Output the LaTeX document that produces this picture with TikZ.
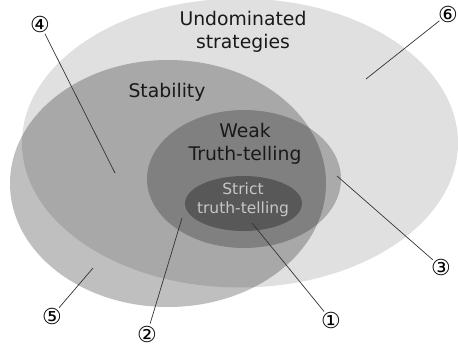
\documentclass[tikz,border=0pt]{standalone}
\usepackage{fontspec}
\setmainfont{DejaVu Sans}
\usetikzlibrary{shapes.geometric}

\begin{document}
\begin{tikzpicture}[x=1pt, y=-1pt]
		\tikzstyle{Set} = [ellipse, draw=none, fill=black, inner sep=0pt]
		\tikzstyle{Title} = [align=center, inner sep=0pt, font=\fontsize{18.8}{23.5}\selectfont, text=black!90]
		\tikzstyle{Num} = [circle, inner sep=-1.5pt, font=\fontsize{22}{22}\selectfont]
		\tikzstyle{pointer} = [black!80, line width=0.7pt]
		
		\useasboundingbox (0,0) rectangle (458,349);
		
		% the four sets
		\node (und) [Set, fill opacity=0.12, minimum width=436pt, minimum height=289pt] at (240,143) {};
		\node (stab) [Set, fill opacity=0.25, minimum width=316pt, minimum height=247pt] at (168,183.5) {};
		\node (weak) [Set, fill opacity=0.24, minimum width=194pt, minimum height=138pt] at (244,179) {};
		\node (strict) [Set, fill opacity=0.31, minimum width=117pt, minimum height=55pt] at (243.5,203.5) {};
		
		\node (undText) [Title] at (243,32) {Undominated\\strategies};
		\node (stabText) [Title] at (167,92) {Stability};
		\node (weakText) [Title] at (245,144) {Weak\\Truth-telling};
		\node (strictText) [Title, text=black!22, font=\fontsize{15.5}{19}\selectfont] at (243,200) {Strict\\truth-telling};
		
		% numbered pointers
		\coordinate (p1) at (252,223);
		\coordinate (p2) at (182,218);
		\coordinate (p3) at (337,176);
		\coordinate (p4) at (115,173);
		\coordinate (p5) at (93,268);
		\coordinate (p6) at (366,79);
		
		\node (n1) [Num] at (331,320) {①};
		\node (n2) [Num] at (147,334) {②};
		\node (n3) [Num] at (441,267) {③};
		\node (n4) [Num] at (40,24) {④};
		\node (n5) [Num] at (52,316) {⑤};
		\node (n6) [Num] at (448,14) {⑥};
		
		\draw [pointer] (n1) -- (p1);
		\draw [pointer] (n2) -- (p2);
		\draw [pointer] (n3) -- (p3);
		\draw [pointer] (n4) -- (p4);
		\draw [pointer] (n5) -- (p5);
		\draw [pointer] (n6) -- (p6);
		\end{tikzpicture}
\end{document}
